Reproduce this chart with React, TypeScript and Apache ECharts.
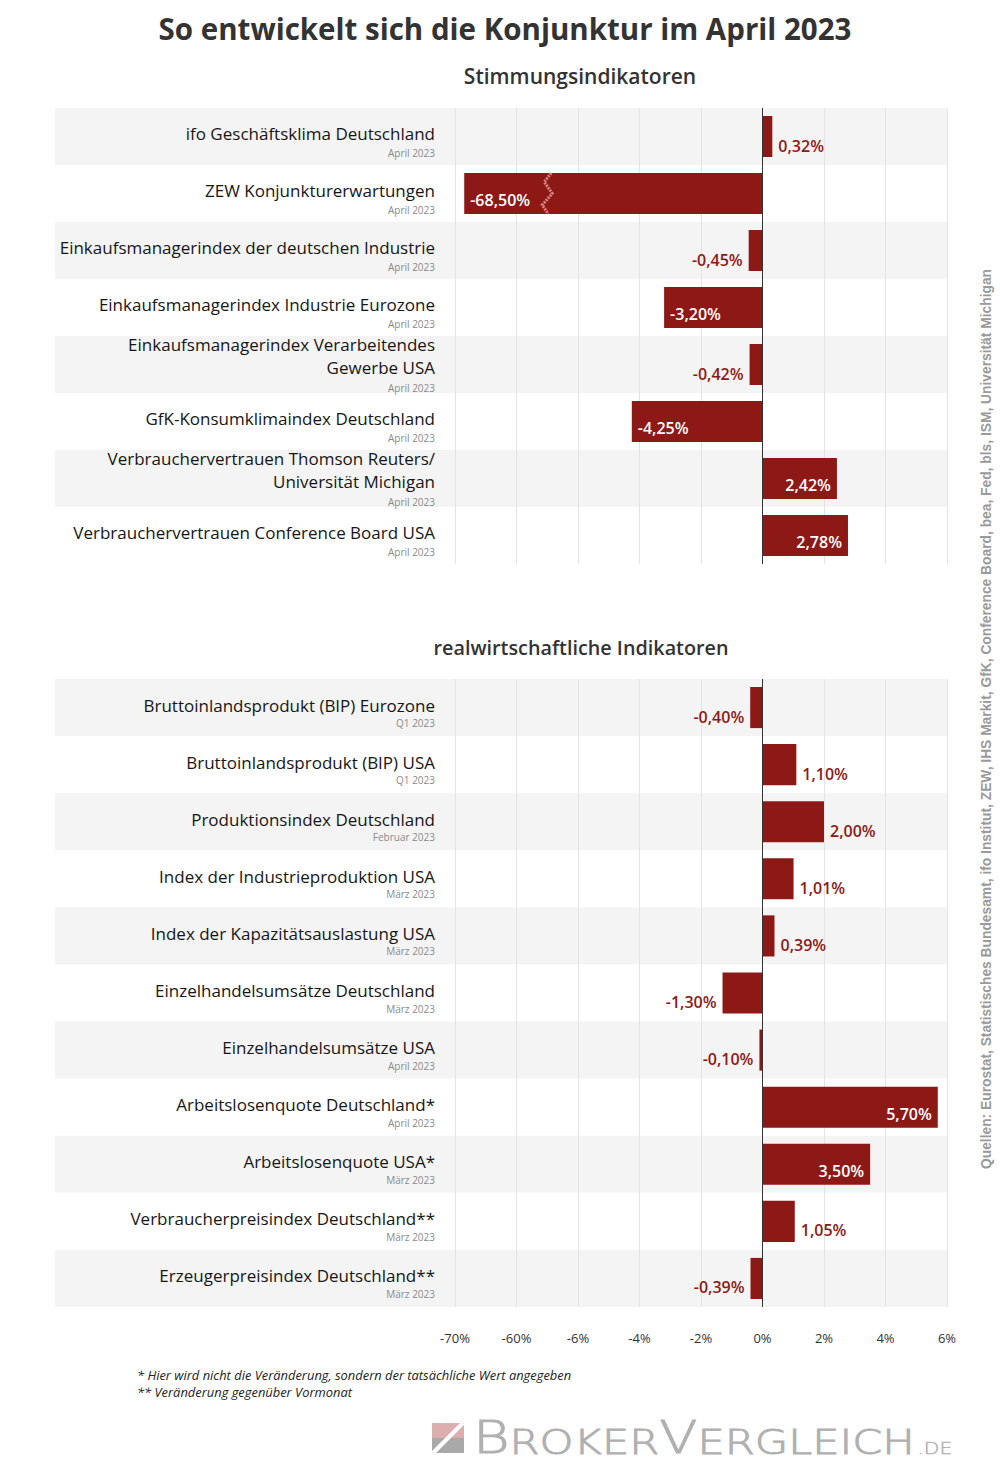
import React, { useEffect, useRef } from "react";
import * as echarts from "echarts";

const TITLE = "So entwickelt sich die Konjunktur im April 2023";
const SUBTITLE_MOOD = "Stimmungsindikatoren";
const SUBTITLE_REAL = "realwirtschaftliche Indikatoren";

const MOOD_NAMES = [
  "ifo Geschäftsklima Deutschland",
  "ZEW Konjunkturerwartungen",
  "Einkaufsmanagerindex der deutschen Industrie",
  "Einkaufsmanagerindex Industrie Eurozone",
  "Einkaufsmanagerindex Verarbeitendes\nGewerbe USA",
  "GfK-Konsumklimaindex Deutschland",
  "Verbrauchervertrauen Thomson Reuters/\nUniversität Michigan",
  "Verbrauchervertrauen Conference Board USA",
];
const MOOD_PERIODS = [
  "April 2023",
  "April 2023",
  "April 2023",
  "April 2023",
  "April 2023",
  "April 2023",
  "April 2023",
  "April 2023",
];
const MOOD_VALUES = [0.32, -68.5, -0.45, -3.2, -0.42, -4.25, 2.42, 2.78];

const REAL_NAMES = [
  "Bruttoinlandsprodukt (BIP) Eurozone",
  "Bruttoinlandsprodukt (BIP) USA",
  "Produktionsindex Deutschland",
  "Index der Industrieproduktion USA",
  "Index der Kapazitätsauslastung USA",
  "Einzelhandelsumsätze Deutschland",
  "Einzelhandelsumsätze USA",
  "Arbeitslosenquote Deutschland*",
  "Arbeitslosenquote USA*",
  "Verbraucherpreisindex Deutschland**",
  "Erzeugerpreisindex Deutschland**",
];
const REAL_PERIODS = [
  "Q1 2023",
  "Q1 2023",
  "Februar 2023",
  "März 2023",
  "März 2023",
  "März 2023",
  "April 2023",
  "April 2023",
  "März 2023",
  "März 2023",
  "März 2023",
];
const REAL_VALUES = [-0.4, 1.1, 2.0, 1.01, 0.39, -1.3, -0.1, 5.7, 3.5, 1.05, -0.39];

// tick labels of the broken axis (equally spaced on screen)
const AXIS_TICKS = [-70, -60, -6, -4, -2, 0, 2, 4, 6];

const FOOTNOTES = [
  "* Hier wird nicht die Veränderung, sondern der tatsächliche Wert angegeben",
  "** Veränderung gegenüber Vormonat",
];
const SOURCES =
  "Quellen: Eurostat, Statistisches Bundesamt, ifo Institut, ZEW, IHS Markit, GfK, Conference Board, bea, Fed, bls, ISM, Universität Michigan";

const BAR_COLOR = "#8d1917";
const FONT = "'Open Sans', 'Noto Sans', sans-serif";
const ZERO_INDEX = AXIS_TICKS.indexOf(0);
const INSIDE_MIN = 1.05; // bar length (in tick steps) above which the label goes inside

// piecewise-linear mapping of a real value onto the broken axis (tick steps from zero)
function toAxis(v: number): number {
  const t = AXIS_TICKS;
  let i = 0;
  while (i < t.length - 2 && v > t[i + 1]) i++;
  const frac = (v - t[i]) / (t[i + 1] - t[i]);
  return i + frac - ZERO_INDEX;
}

function fmt(v: number): string {
  return v.toFixed(2).replace(".", ",") + "%";
}

function barItem(v: number) {
  const a = toAxis(v);
  const inside = Math.abs(a) > INSIDE_MIN;
  const position =
    v >= 0 ? (inside ? "insideBottomRight" : "right") : inside ? "insideBottomLeft" : "left";
  return {
    value: a,
    raw: v,
    label: {
      show: true,
      position,
      distance: 6,
      offset: inside ? [0, 0] : [0, 9],
      color: inside ? "#ffffff" : BAR_COLOR,
    },
  };
}

function catFormatter(periods: string[]) {
  return (val: string, idx: number) => {
    const lines = String(val).split("\n");
    const top = lines.length === 1 ? "{sp| }\n" : "";
    return top + lines.map((l) => `{n|${l}}`).join("\n") + `\n{d|${periods[idx]}}`;
  };
}

function catRich(dateLH: number, spLH: number) {
  return {
    n: { fontSize: 17, lineHeight: 23, color: "#161616", fontFamily: FONT, align: "right" },
    d: { fontSize: 10, lineHeight: dateLH, color: "#8a8a8a", fontFamily: FONT, align: "right" },
    sp: { fontSize: 1, lineHeight: spLH, align: "right" },
  };
}

export default function App() {
  const ref = useRef<HTMLDivElement>(null);

  useEffect(() => {
    if (!ref.current) return;
    const chart = echarts.init(ref.current, undefined, { renderer: "svg" });

    const grids = [
      { left: 55, right: 53, top: 108, height: 456 },
      { left: 55, right: 53, top: 679, height: 628 },
      { left: 455, right: 53, top: 108, height: 456 },
      { left: 455, right: 53, top: 679, height: 628 },
    ];

    const bgX = (gi: number) => ({ gridIndex: gi, type: "value", show: false, min: 0, max: 1 });
    const bgY = (gi: number, data: string[]) => ({
      gridIndex: gi,
      type: "category",
      data,
      inverse: true,
      z: 0,
      axisLine: { show: false },
      axisTick: { show: false },
      axisLabel: { show: false },
      splitLine: { show: false },
      splitArea: { show: true, interval: 0, areaStyle: { color: ["#f4f4f4", "#ffffff"] } },
    });
    const mainX = (gi: number, labels: boolean) => ({
      gridIndex: gi,
      type: "value",
      min: -ZERO_INDEX,
      max: AXIS_TICKS.length - 1 - ZERO_INDEX,
      interval: 1,
      z: 1,
      axisLine: { show: false },
      axisTick: { show: false },
      axisLabel: {
        show: labels,
        margin: 24,
        color: "#333",
        fontSize: 13,
        fontFamily: FONT,
        formatter: (v: number) => {
          const t = AXIS_TICKS[Math.round(v) + ZERO_INDEX];
          return t === undefined ? "" : t + "%";
        },
      },
      splitLine: { show: true, lineStyle: { color: "#e3e3e3", width: 1 } },
    });
    const mainY = (gi: number, data: string[], periods: string[], dateLH: number, spLH: number) => ({
      gridIndex: gi,
      type: "category",
      data,
      inverse: true,
      z: 1,
      axisLine: { show: false },
      axisTick: { show: false },
      splitLine: { show: false },
      axisLabel: {
        margin: 20,
        formatter: catFormatter(periods),
        rich: catRich(dateLH, spLH),
      },
    });

    const zeroLine = {
      silent: true,
      symbol: ["none", "none"],
      label: { show: false },
      lineStyle: { color: "#333", width: 1, type: "solid" },
      data: [{ xAxis: 0 }],
    };

    const barSeries = (xi: number, values: number[]) => ({
      type: "bar",
      xAxisIndex: xi,
      yAxisIndex: xi,
      data: values.map(barItem),
      barWidth: "72%",
      itemStyle: { color: BAR_COLOR },
      label: {
        fontSize: 16,
        fontWeight: 600,
        fontFamily: FONT,
        formatter: (p: any) => fmt(p.data.raw),
      },
      markLine: zeroLine,
    });

    const breakPos = (1 + 2) / 2 - ZERO_INDEX;
    const breakData = MOOD_VALUES.map((v, i) => [v, i])
      .filter(([v]) => v < AXIS_TICKS[2])
      .map(([, i]) => [breakPos, i]);

    const LOGO_GRAY = "#b0b0b0";
    const logoFont = {
      fontFamily: "'DejaVu Sans'",
      fontWeight: 200,
      fill: LOGO_GRAY,
      stroke: LOGO_GRAY,
      lineWidth: 0.9,
      verticalAlign: "bottom",
    };

    const option: any = {
      animation: false,
      backgroundColor: "#ffffff",
      grid: grids,
      xAxis: [bgX(0), bgX(1), mainX(2, false), mainX(3, true)],
      yAxis: [
        bgY(0, MOOD_NAMES),
        bgY(1, REAL_NAMES),
        mainY(2, MOOD_NAMES, MOOD_PERIODS, 17, 10),
        mainY(3, REAL_NAMES, REAL_PERIODS, 13, 8),
      ],
      series: [
        barSeries(2, MOOD_VALUES),
        barSeries(3, REAL_VALUES),
        {
          type: "custom",
          xAxisIndex: 2,
          yAxisIndex: 2,
          z: 5,
          silent: true,
          data: breakData,
          renderItem: (params: any, api: any) => {
            const p = api.coord([api.value(0), api.value(1)]);
            const h = api.size([0, 1])[1] * 0.72;
            const top = p[1] - h / 2;
            const pts = [
              [p[0] + 4, top],
              [p[0] - 3, top + h * 0.22],
              [p[0] + 5, top + h * 0.5],
              [p[0] - 5, top + h * 0.78],
              [p[0] + 1, top + h],
            ];
            return {
              type: "polyline",
              shape: { points: pts },
              style: { stroke: "rgba(228,150,150,0.85)", lineWidth: 3, fill: null, lineDash: [2, 1] },
            };
          },
        },
      ],
      graphic: [
        {
          type: "text",
          x: 505,
          y: 28,
          style: {
            text: TITLE,
            fill: "#333333",
            fontSize: 29.5,
            fontWeight: "bold",
            fontFamily: FONT,
            textAlign: "center",
            textVerticalAlign: "middle",
          },
        },
        {
          type: "text",
          x: 580,
          y: 76,
          style: {
            text: SUBTITLE_MOOD,
            fill: "#333333",
            fontSize: 21,
            fontWeight: 600,
            fontFamily: FONT,
            textAlign: "center",
            textVerticalAlign: "middle",
          },
        },
        {
          type: "text",
          x: 581,
          y: 647,
          style: {
            text: SUBTITLE_REAL,
            fill: "#333333",
            fontSize: 19.8,
            fontWeight: 600,
            fontFamily: FONT,
            textAlign: "center",
            textVerticalAlign: "middle",
          },
        },
        ...FOOTNOTES.map((t, i) => ({
          type: "text",
          x: 137,
          y: 1375 + i * 17,
          style: {
            text: t,
            fill: "#222222",
            fontSize: 12.9,
            fontStyle: "italic",
            fontFamily: FONT,
            textAlign: "left",
            textVerticalAlign: "middle",
          },
        })),
        {
          type: "text",
          x: 986,
          y: 719,
          rotation: Math.PI / 2,
          style: {
            text: SOURCES,
            fill: "#9a9a9a",
            fontSize: 13.8,
            fontWeight: "bold",
            fontFamily: "'Liberation Sans', Arial, sans-serif",
            textAlign: "center",
            textVerticalAlign: "middle",
          },
        },
        // logo icon
        { type: "rect", shape: { x: 432, y: 1423, width: 32, height: 15 }, style: { fill: "#dcaeae" } },
        { type: "rect", shape: { x: 432, y: 1438, width: 32, height: 15 }, style: { fill: "#a9a9a9" } },
        {
          type: "line",
          shape: { x1: 433, y1: 1453, x2: 463, y2: 1423 },
          style: { stroke: "#ffffff", lineWidth: 4 },
        },
        {
          type: "text",
          x: 473,
          y: 1460,
          scaleX: 1.27,
          style: {
            text: "{b|B}{s|ROKER}{b|V}{s|ERGLEICH}{t|.DE}",
            fill: LOGO_GRAY,
            textAlign: "left",
            textVerticalAlign: "bottom",
            rich: {
              b: { ...logoFont, fontSize: 44, lineHeight: 44 },
              s: { ...logoFont, fontSize: 34, lineHeight: 34, padding: [0, 0, 1, 0] },
              t: { ...logoFont, fontSize: 16, lineHeight: 16, lineWidth: 0.4, padding: [0, 0, 4, 2] },
            },
          },
        },
      ],
    };

    chart.setOption(option);
    return () => chart.dispose();
  }, []);

  return (
    <div
      ref={ref}
      style={{ position: "absolute", left: 0, top: 0, width: 1000, height: 1474, background: "#fff" }}
    />
  );
}
